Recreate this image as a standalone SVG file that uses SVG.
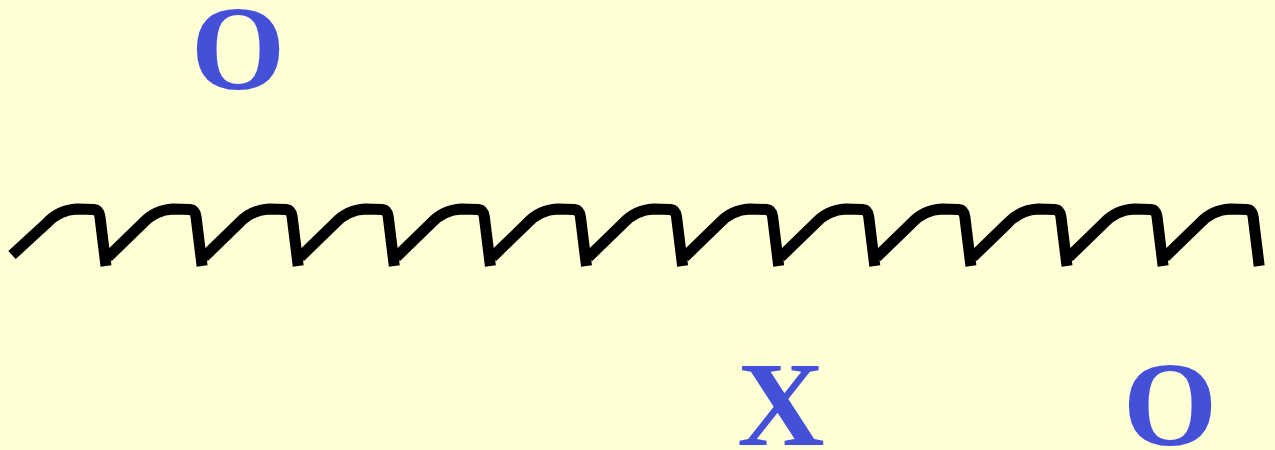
<svg xmlns="http://www.w3.org/2000/svg" width="1275" height="450" viewBox="0 0 1275 450">
<style>
.lbl{font-family:"Liberation Serif","Times New Roman",serif;font-weight:bold;font-size:121px;fill:#4550D8;text-anchor:middle}
.wave{fill:none;stroke:#000;stroke-width:11;stroke-linecap:butt;stroke-linejoin:round}
</style>
<rect width="1275" height="450" fill="#FFFFD5"/>
<g id="wave">
<path class="wave" d="M12,255 L46.9,223 q12,-13 30,-14 l17,0.5 q5,0.5 6,7 l6.1,49.5
m2,-9 l35,-34 q12,-13 30,-14 l17,0.5 q5,0.5 6,7 l6.1,49.5
m2,-9 l35,-34 q12,-13 30,-14 l17,0.5 q5,0.5 6,7 l6.1,49.5
m2,-9 l35,-34 q12,-13 30,-14 l17,0.5 q5,0.5 6,7 l6.1,49.5
m2,-9 l35,-34 q12,-13 30,-14 l17,0.5 q5,0.5 6,7 l6.1,49.5
m2,-9 l35,-34 q12,-13 30,-14 l17,0.5 q5,0.5 6,7 l6.1,49.5
m2,-9 l35,-34 q12,-13 30,-14 l17,0.5 q5,0.5 6,7 l6.1,49.5
m2,-9 l35,-34 q12,-13 30,-14 l17,0.5 q5,0.5 6,7 l6.1,49.5
m2,-9 l35,-34 q12,-13 30,-14 l17,0.5 q5,0.5 6,7 l6.1,49.5
m2,-9 l35,-34 q12,-13 30,-14 l17,0.5 q5,0.5 6,7 l6.1,49.5
m2,-9 l35,-34 q12,-13 30,-14 l17,0.5 q5,0.5 6,7 l6.1,49.5
m2,-9 l35,-34 q12,-13 30,-14 l17,0.5 q5,0.5 6,7 l6.1,49.5
m2,-9 l35,-34 q12,-13 30,-14 l17,0.5 q5,0.5 6,7 l6.1,49.5"/>
</g>
<g id="label-top-o"><text class="lbl" x="238" y="89">O</text></g>
<g id="label-x"><text class="lbl" x="781" y="445">X</text></g>
<g id="label-bottom-o"><text class="lbl" x="1170" y="445">O</text></g>
</svg>
